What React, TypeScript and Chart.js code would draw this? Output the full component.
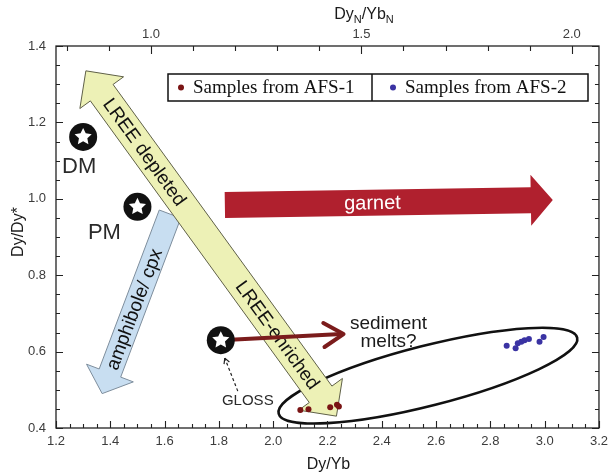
import React, { useEffect, useRef } from "react";
import { Chart, registerables } from "chart.js";

Chart.register(...registerables);

// ---------------- data ----------------
const SERIES_LABELS = ["Samples from AFS-1", "Samples from AFS-2"];
const AFS1_X = [2.1, 2.13, 2.21, 2.235, 2.242];
const AFS1_Y = [0.447, 0.449, 0.454, 0.461, 0.456];
const AFS2_X = [2.86, 2.893, 2.901, 2.914, 2.926, 2.942, 2.981, 2.996];
const AFS2_Y = [0.615, 0.609, 0.622, 0.626, 0.63, 0.633, 0.626, 0.638];

const X_TICKS = [1.2, 1.4, 1.6, 1.8, 2.0, 2.2, 2.4, 2.6, 2.8, 3.0, 3.2];
const Y_TICKS = [0.4, 0.6, 0.8, 1.0, 1.2, 1.4];
const TOP_TICKS = [1.0, 1.5, 2.0];
const CHONDRITE_DY_YB = 1.55; // Dy/Yb -> DyN/YbN

const ENDMEMBER_NAMES = ["DM", "PM", "GLOSS"];
const ENDMEMBER_X = [1.3, 1.5, 1.807];
const ENDMEMBER_Y = [1.162, 0.979, 0.63];

// annotation anchors (data space)
const LREE_FROM = [1.31, 1.335];
const LREE_TO = [2.233, 0.431];
const AMPH_FROM = [1.62, 0.96];
const AMPH_TO = [1.37, 0.49];
const GARNET_FROM = [1.822, 0.984];
const GARNET_TO = [3.03, 0.997];
const SEDIMENT_TO = [2.259, 0.646];
const ELLIPSE_CENTER = [2.57, 0.537];

const SANS = "'Liberation Sans', Arial, Helvetica, sans-serif";
const SERIF = "'Liberation Serif', 'Times New Roman', serif";
const C_AFS1 = "#7a1414";
const C_AFS2 = "#3a33a3";

type Pt = [number, number];

function blockArrow(
  ctx: CanvasRenderingContext2D,
  a: Pt,
  b: Pt,
  shaftW: number,
  headW: number,
  headL: number,
  startHead: boolean,
  endHead: boolean,
  fill: string,
  stroke: string | null,
  lw = 1
) {
  const dx = b[0] - a[0];
  const dy = b[1] - a[1];
  const L = Math.hypot(dx, dy);
  const ux = dx / L, uy = dy / L;
  const nx = -uy, ny = ux;
  const hs = shaftW / 2, hh = headW / 2;
  const p: Pt[] = [];
  const at = (o: Pt, along: number, side: number): Pt => [
    o[0] + ux * along + nx * side,
    o[1] + uy * along + ny * side,
  ];
  if (startHead) {
    p.push(a);
    p.push(at(a, headL, hh));
    p.push(at(a, headL, hs));
  } else {
    p.push(at(a, 0, hs));
  }
  if (endHead) {
    p.push(at(b, -headL, hs));
    p.push(at(b, -headL, hh));
    p.push(b);
    p.push(at(b, -headL, -hh));
    p.push(at(b, -headL, -hs));
  } else {
    p.push(at(b, 0, hs));
    p.push(at(b, 0, -hs));
  }
  if (startHead) {
    p.push(at(a, headL, -hs));
    p.push(at(a, headL, -hh));
  } else {
    p.push(at(a, 0, -hs));
  }
  ctx.beginPath();
  ctx.moveTo(p[0][0], p[0][1]);
  for (let i = 1; i < p.length; i++) ctx.lineTo(p[i][0], p[i][1]);
  ctx.closePath();
  ctx.fillStyle = fill;
  ctx.fill();
  if (stroke) {
    ctx.strokeStyle = stroke;
    ctx.lineWidth = lw;
    ctx.lineJoin = "miter";
    ctx.stroke();
  }
}

function textAlong(
  ctx: CanvasRenderingContext2D,
  text: string,
  a: Pt,
  b: Pt,
  t: number,
  font: string,
  color: string
) {
  const x = a[0] + (b[0] - a[0]) * t;
  const y = a[1] + (b[1] - a[1]) * t;
  const ang = Math.atan2(b[1] - a[1], b[0] - a[0]);
  ctx.save();
  ctx.translate(x, y);
  ctx.rotate(ang);
  ctx.font = font;
  ctx.fillStyle = color;
  ctx.textAlign = "center";
  ctx.textBaseline = "middle";
  ctx.fillText(text, 0, 1);
  ctx.restore();
}

function starSymbol(ctx: CanvasRenderingContext2D, x: number, y: number) {
  ctx.beginPath();
  ctx.arc(x, y, 14, 0, Math.PI * 2);
  ctx.fillStyle = "#111";
  ctx.fill();
  ctx.beginPath();
  for (let i = 0; i < 10; i++) {
    const r = i % 2 === 0 ? 9 : 4.4;
    const a = -Math.PI / 2 + (i * Math.PI) / 5;
    const px = x + r * Math.cos(a);
    const py = y + r * Math.sin(a);
    if (i === 0) ctx.moveTo(px, py);
    else ctx.lineTo(px, py);
  }
  ctx.closePath();
  ctx.fillStyle = "#fff";
  ctx.fill();
}

const annotationPlugin = {
  id: "geoAnnotations",
  beforeDatasetsDraw(chart: any) {
    const { ctx, scales } = chart;
    const sx = scales.x, sy = scales.y;
    const P = (d: number[]): Pt => [sx.getPixelForValue(d[0]), sy.getPixelForValue(d[1])];
    ctx.save();

    // ellipse around samples
    const ec = P(ELLIPSE_CENTER);
    ctx.beginPath();
    ctx.ellipse(ec[0], ec[1], 154, 30, (-14.3 * Math.PI) / 180, 0, Math.PI * 2);
    ctx.strokeStyle = "#111";
    ctx.lineWidth = 2.6;
    ctx.stroke();

    // amphibole / cpx arrow
    const a0 = P(AMPH_FROM), a1 = P(AMPH_TO);
    blockArrow(ctx, a0, a1, 23, 50, 22, false, true, "#c8def1", "#7d8d9c", 1);
    textAlong(ctx, "amphibole/ cpx", a1, a0, 0.47, `19px ${SANS}`, "#111");

    // LREE arrow
    const l0 = P(LREE_FROM), l1 = P(LREE_TO);
    blockArrow(ctx, l0, l1, 28, 54, 27, true, true, "#edf1b6", "#5f6048", 1);
    textAlong(ctx, "LREE depleted", l0, l1, 0.235, `19px ${SANS}`, "#111");
    textAlong(ctx, "LREE-enriched", l0, l1, 0.765, `19px ${SANS}`, "#111");

    // garnet arrow
    const g0 = P(GARNET_FROM), g1 = P(GARNET_TO);
    blockArrow(ctx, g0, g1, 26, 51, 22, false, true, "#b0202e", null);
    textAlong(ctx, "garnet", g0, g1, 0.45, `20px ${SANS}`, "#fff");

    // sediment melts arrow
    const gl = P([ENDMEMBER_X[2], ENDMEMBER_Y[2]]);
    const st = P(SEDIMENT_TO);
    ctx.strokeStyle = "#7b1c1c";
    ctx.lineWidth = 4;
    ctx.lineCap = "round";
    ctx.beginPath();
    ctx.moveTo(gl[0], gl[1]);
    ctx.lineTo(st[0] - 2, st[1]);
    ctx.stroke();
    const ang = Math.atan2(st[1] - gl[1], st[0] - gl[0]);
    ctx.beginPath();
    for (const s of [-1, 1]) {
      const aa = ang + Math.PI + s * 0.55;
      ctx.moveTo(st[0], st[1]);
      ctx.lineTo(st[0] + 23 * Math.cos(aa), st[1] + 23 * Math.sin(aa));
    }
    ctx.stroke();
    ctx.lineCap = "butt";
    ctx.font = `19px ${SANS}`;
    ctx.fillStyle = "#1a1a1a";
    ctx.textAlign = "center";
    ctx.textBaseline = "middle";
    ctx.fillText("sediment", st[0] + 45, st[1] - 10);
    ctx.fillText("melts?", st[0] + 45, st[1] + 8);

    // GLOSS dashed pointer
    ctx.strokeStyle = "#222";
    ctx.lineWidth = 1.2;
    ctx.setLineDash([3, 2.5]);
    ctx.beginPath();
    ctx.moveTo(gl[0] + 17, gl[1] + 51);
    ctx.lineTo(gl[0] + 4, gl[1] + 18);
    ctx.stroke();
    ctx.setLineDash([]);
    const pa = Math.atan2(-33, -13);
    ctx.beginPath();
    for (const s of [-1, 1]) {
      const aa = pa + Math.PI + s * 0.5;
      ctx.moveTo(gl[0] + 4, gl[1] + 18);
      ctx.lineTo(gl[0] + 4 + 6 * Math.cos(aa), gl[1] + 18 + 6 * Math.sin(aa));
    }
    ctx.stroke();

    // end-member stars
    const offs: Pt[] = [
      [-4, 30],
      [-33, 26],
      [27, 61],
    ];
    const fonts = [`22px ${SANS}`, `22px ${SANS}`, `15px ${SANS}`];
    for (let i = 0; i < ENDMEMBER_NAMES.length; i++) {
      const p = P([ENDMEMBER_X[i], ENDMEMBER_Y[i]]);
      starSymbol(ctx, p[0], p[1]);
      ctx.font = fonts[i];
      ctx.fillStyle = "#2a2a2a";
      ctx.textAlign = "center";
      ctx.textBaseline = "middle";
      ctx.fillText(ENDMEMBER_NAMES[i], p[0] + offs[i][0], p[1] + offs[i][1]);
    }
    ctx.restore();
  },
  afterDraw(chart: any) {
    const { ctx, chartArea: ca, scales } = chart;
    const sx = scales.x, sy = scales.y, st = scales.x2;
    ctx.save();
    // frame
    ctx.strokeStyle = "#222";
    ctx.lineWidth = 1.3;
    ctx.strokeRect(ca.left, ca.top, ca.right - ca.left, ca.bottom - ca.top);
    ctx.lineWidth = 1.1;
    ctx.beginPath();
    // bottom ticks
    for (let i = 0; i <= 40; i++) {
      const v = 1.2 + i * 0.05;
      const x = Math.round(sx.getPixelForValue(v)) + 0.5;
      const len = i % 4 === 0 ? 7 : 4;
      ctx.moveTo(x, ca.bottom);
      ctx.lineTo(x, ca.bottom - len);
    }
    // left & right ticks
    for (let i = 0; i <= 20; i++) {
      const v = 0.4 + i * 0.05;
      const y = Math.round(sy.getPixelForValue(v)) + 0.5;
      const len = i % 4 === 0 ? 7 : 4;
      ctx.moveTo(ca.left, y);
      ctx.lineTo(ca.left + len, y);
      ctx.moveTo(ca.right, y);
      ctx.lineTo(ca.right - len, y);
    }
    // top ticks (DyN/YbN)
    for (let i = 8; i <= 20; i++) {
      const v = i / 10;
      const x = Math.round(st.getPixelForValue(v)) + 0.5;
      const len = i % 5 === 0 ? 8 : 5;
      ctx.moveTo(x, ca.top);
      ctx.lineTo(x, ca.top + len);
    }
    ctx.stroke();

    // axis titles
    ctx.fillStyle = "#1a1a1a";
    ctx.textBaseline = "alphabetic";
    ctx.font = `16px ${SANS}`;
    ctx.textAlign = "center";
    ctx.fillText("Dy/Yb", (ca.left + ca.right) / 2 + 1, 469);
    ctx.save();
    ctx.translate(23, (ca.top + ca.bottom) / 2 - 5);
    ctx.rotate(-Math.PI / 2);
    ctx.fillText("Dy/Dy*", 0, 0);
    ctx.restore();
    // top title with subscripts
    const parts: [string, boolean][] = [
      ["Dy", false],
      ["N", true],
      ["/Yb", false],
      ["N", true],
    ];
    const big = `16px ${SANS}`, small = `11px ${SANS}`;
    let total = 0;
    for (const [t, sub] of parts) {
      ctx.font = sub ? small : big;
      total += ctx.measureText(t).width;
    }
    let tx = 364 - total / 2;
    ctx.textAlign = "left";
    for (const [t, sub] of parts) {
      ctx.font = sub ? small : big;
      ctx.fillText(t, tx, sub ? 23 : 19);
      tx += ctx.measureText(t).width;
    }

    // legend
    const lx = ca.left + 112, ly = ca.top + 28, lw = 420, lh = 27, dv = lx + 204;
    ctx.strokeStyle = "#111";
    ctx.lineWidth = 1.5;
    ctx.strokeRect(lx, ly, lw, lh);
    ctx.beginPath();
    ctx.moveTo(dv, ly);
    ctx.lineTo(dv, ly + lh);
    ctx.stroke();
    const cols = [C_AFS1, C_AFS2];
    const starts = [lx + 13, dv + 21];
    ctx.font = `19px ${SERIF}`;
    ctx.textBaseline = "middle";
    for (let i = 0; i < 2; i++) {
      ctx.beginPath();
      ctx.arc(starts[i], ly + lh / 2, 3, 0, Math.PI * 2);
      ctx.fillStyle = cols[i];
      ctx.fill();
      ctx.fillStyle = "#111";
      ctx.fillText(SERIES_LABELS[i], starts[i] + 12, ly + lh / 2 + 1);
    }
    ctx.restore();
  },
};

export default function App() {
  const ref = useRef<HTMLCanvasElement | null>(null);
  useEffect(() => {
    document.body.style.margin = "0";
    const canvas = ref.current!;
    const tickFont = { family: SANS, size: 13 };
    const chart = new Chart(canvas, {
      type: "scatter",
      data: {
        datasets: [
          {
            label: SERIES_LABELS[0],
            data: AFS1_X.map((x, i) => ({ x, y: AFS1_Y[i] })),
            backgroundColor: C_AFS1,
            borderColor: C_AFS1,
            pointRadius: 3,
            borderWidth: 0,
          },
          {
            label: SERIES_LABELS[1],
            data: AFS2_X.map((x, i) => ({ x, y: AFS2_Y[i] })),
            backgroundColor: C_AFS2,
            borderColor: C_AFS2,
            pointRadius: 3,
            borderWidth: 0,
          },
        ],
      },
      options: {
        animation: false,
        responsive: false,
        layout: { padding: { left: 0, right: 11, top: 0, bottom: 0 } },
        plugins: { legend: { display: false }, tooltip: { enabled: false } },
        scales: {
          x: {
            type: "linear",
            position: "bottom",
            min: 1.2,
            max: 3.2,
            grid: { display: false, drawTicks: false },
            border: { display: false },
            afterBuildTicks: (s: any) => {
              s.ticks = X_TICKS.map((v) => ({ value: v }));
            },
            afterFit: (s: any) => {
              s.height = 48;
            },
            ticks: {
              font: tickFont,
              color: "#3c3c3c",
              padding: 6,
              maxRotation: 0,
              autoSkip: false,
              callback: (v: any) => Number(v).toFixed(1),
            },
          },
          x2: {
            type: "linear",
            axis: "x",
            position: "top",
            min: 1.2 / CHONDRITE_DY_YB,
            max: 3.2 / CHONDRITE_DY_YB,
            grid: { display: false, drawTicks: false },
            border: { display: false },
            afterBuildTicks: (s: any) => {
              s.ticks = TOP_TICKS.map((v) => ({ value: v }));
            },
            afterFit: (s: any) => {
              s.height = 46;
            },
            ticks: {
              font: tickFont,
              color: "#3c3c3c",
              padding: 4,
              maxRotation: 0,
              autoSkip: false,
              callback: (v: any) => Number(v).toFixed(1),
            },
          },
          y: {
            type: "linear",
            min: 0.4,
            max: 1.4,
            grid: { display: false, drawTicks: false },
            border: { display: false },
            afterBuildTicks: (s: any) => {
              s.ticks = Y_TICKS.map((v) => ({ value: v }));
            },
            afterFit: (s: any) => {
              s.width = 56;
            },
            ticks: {
              font: tickFont,
              color: "#3c3c3c",
              padding: 10,
              autoSkip: false,
              callback: (v: any) => Number(v).toFixed(1),
            },
          },
        },
      },
      plugins: [annotationPlugin],
    } as any);
    return () => chart.destroy();
  }, []);
  return (
    <div style={{ width: 614, height: 476 }}>
      <canvas ref={ref} width={614} height={476} style={{ display: "block" }} />
    </div>
  );
}
